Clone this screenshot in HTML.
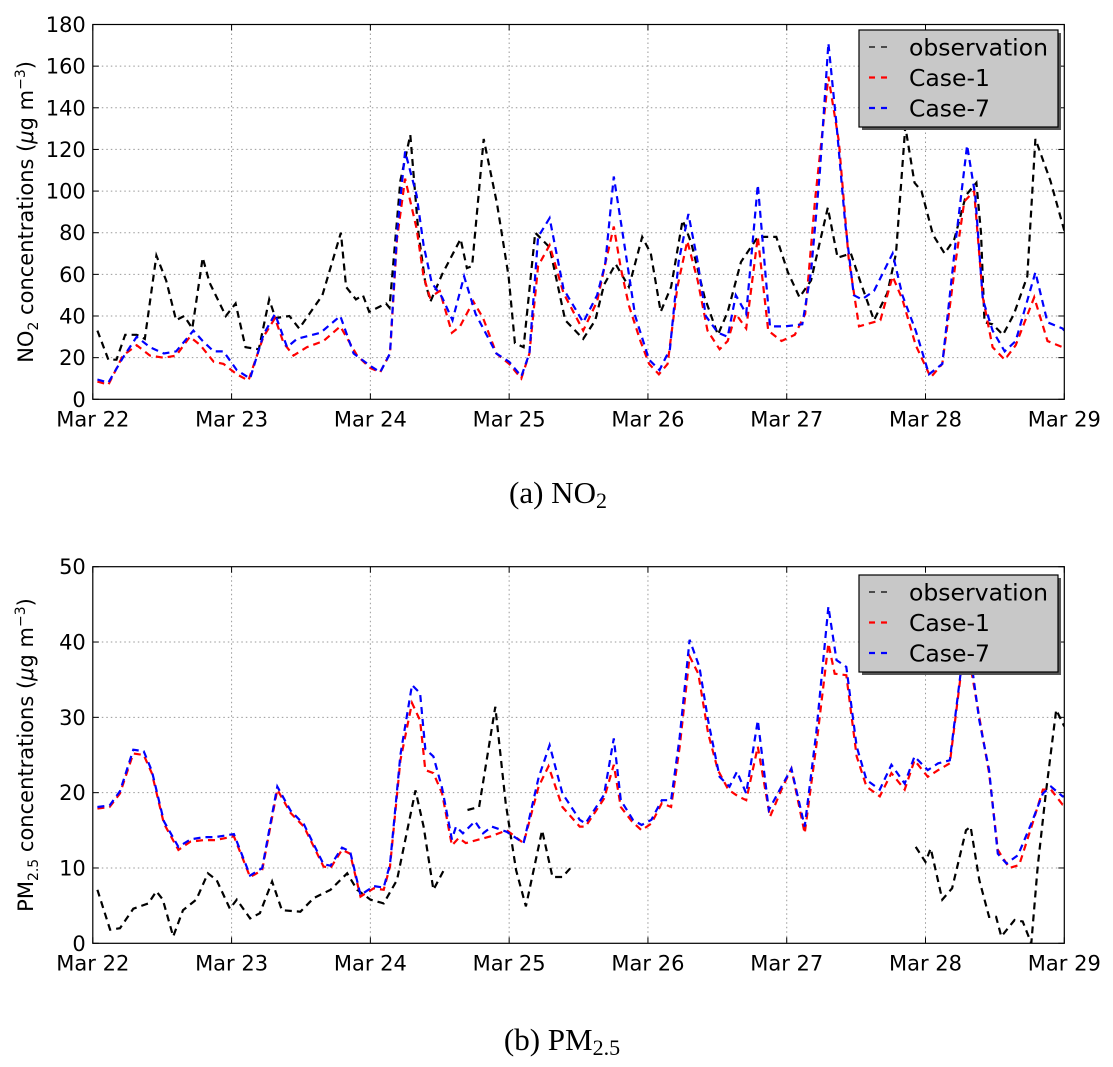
<!DOCTYPE html>
<html><head><meta charset="utf-8">
<style>
html,body{margin:0;padding:0;background:#fff;}
svg{display:block;font-family:"DejaVu Sans","Liberation Sans",sans-serif;}
</style></head>
<body>
<svg id="svg" width="1113" height="1067" viewBox="0 0 1113 1067" xmlns="http://www.w3.org/2000/svg">
<g id="chartA"></g>
<g id="chartB"></g>
<text x="558" y="503" text-anchor="middle" font-family="Liberation Serif, serif" font-size="31">(a) NO<tspan font-size="22" dy="5">2</tspan></text>
<text x="562" y="1050" text-anchor="middle" font-family="Liberation Serif, serif" font-size="31">(b) PM<tspan font-size="22" dy="5">2.5</tspan></text>
</svg>
<script>
const xTickLabels=["Mar 22","Mar 23","Mar 24","Mar 25","Mar 26","Mar 27","Mar 28","Mar 29"];
const legendLabels=["observation","Case-1","Case-7"];
// NO2 data (hours since Mar 22 00:00, values)
const no2ObsH=[0.8,2.7,4.1,5.6,7.6,9,11,12.7,14.4,15.8,17.2,19,20.2,23,24.7,26.4,28.7,30.5,31.6,34,35.7,39.7,42.9,43.8,45.5,46.7,47.8,50.7,51.3,53.2,54.9,56.3,57.5,58.4,60.4,63.6,64.7,65.6,67.6,69.9,71.9,73,74.5,76.5,79,81.7,84.8,86.9,88.4,90.4,92.7,95,96.5,98.2,100,102,103.5,105.8,108.1,109.8,112.1,115,118.2,120.2,122.2,124.2,127.1,128.8,131.1,132.8,135.1,137.4,138.9,140.5,142.1,143.3,145.3,147.3,149,151,152.8,153.6,154.2,155.6,157.4,159.3,161.6,163,165.6,168];
const no2ObsV=[33,19,19,31,31,29,69,57,38,40,34,68,56,40,46,25,24,48,39,40,34,50,80,54,48,50,42,46,44,105,127,80,56,47,60,77,63,64,125,94,59,27,25,80,73,38,29,38,55,65,54,78,70,42,54,86,75,49,31,42,66,78,78,61,49,57,92,68,70,56,38,51,70,131,104,100,79,70,77,98,104,80,37,36,31,41,59,125,105,81];
const no2C1H=[0.8,2.7,5.2,7.6,9.9,12.3,14.4,16.8,18.6,20.9,22.6,24.9,26.9,29.5,31.5,33,34.7,37,39.9,42.8,45.7,48,49.7,51.4,52.6,54,56,57.2,58.3,60,62.1,63.5,65.8,67.5,69.8,72,74.1,75.5,77,79,81.4,84.8,87.2,88.6,90.1,91.3,92.7,94.7,96.2,97.9,99.4,101.1,102.8,104.6,106.3,108.4,109.8,111.2,113,115,116.8,119.1,121.4,123.2,124.9,127.2,129,130.7,132.5,136.2,138.3,140,142.3,144.9,146.9,149.3,150.7,152.4,153.9,155.6,157.7,159.6,162.8,165.1,167.7,168];
const no2C1V=[8.5,7,21,26,21,20,21,30,26,18,17,12,9,30,39,27,21,25,28,35,21,15,13,22,77,106,82,59,49,52,32,35,47,39,22,17,10,22,64,74,51,33,47,65,83,63,45,28,17,12,17,54,76,57,33,24,28,41,34,78,33,28,31,41,96,155,124,68,35,38,59,48,26,10.5,17,68,95,100,49,25,19,26,49,28,25,25];
const no2C7H=[0.8,2.7,5.2,7.6,9.9,12.3,14.4,17.4,19,20.9,22.6,24.9,27.2,29.5,31.5,33.6,35.3,39.4,42.8,45.1,48,49.7,51.4,52.6,54,56,57.2,58.6,60.4,62.2,64.2,66.2,69.8,72,74.1,75.5,77,79,81.4,84.8,87.2,88.6,90.1,92,93.8,96.2,98,99.8,101.3,103,104.6,106,108.1,109.8,111.2,113,115,117.1,119.7,122.7,124.2,125.7,127.2,128.6,130.1,131.6,133,135.1,138.3,140,142.3,144.6,146.9,149.3,151.2,152.6,153.9,155.6,157.7,159.6,163,165.1,167.7,168];
const no2C7V=[9.5,8,20,30,25,22,23,33,28,23,23,14,10,31,41,25,29,32,40,22,16,13,22,80,119,98,74,56,49,38,59,41,22,18,11,22,78,87,53,37,50,65,107,73,40,19,14,24,66,89,66,40,32,30,50,41,103,35,35,36,61,108,171,132,85,50,48,52,70,50,33,12,17,78,122,98,48,33,23,28,61,37,34,33];
// PM2.5 data (null = missing observations)
const pmObsH=[0.8,3,4.7,7,9.6,11,12.1,13.9,15.6,17.9,19.9,21.4,23.7,24.9,27.2,28.9,31,32.7,35.9,38.2,41.1,44,45.7,48,50.3,52.6,55.8,57.2,58.9,60.7,62,64.8,66.8,69.6,71.4,73.2,74.9,77.7,79.5,81.2,82.6,100,142.3,144,144.9,146.9,148.6,151,151.8,153.3,155,156.2,157.1,159.4,160.8,162.3,163.4,164.8,166.6,168];
const pmObsV=[7.1,1.8,2,4.6,5.3,6.9,5.8,0.9,4.4,5.8,9.3,8.4,4.6,5.8,3.3,4,8.2,4.4,4.2,6,7.1,9.3,7.1,5.8,5.3,8.4,20.3,15.5,7.1,9.7,null,17.7,18.1,31.4,18.6,9.7,4.9,15,8.8,8.8,10,null,12.8,10.8,12.6,5.8,7.3,15,15.5,8.4,3.5,3.5,0.9,3.1,2.9,0,10.2,19.9,31,28.8];
const pmC1H=[0.8,2.9,4.7,7,8.8,10.2,12.3,14.8,16.9,19.2,21.2,24.4,27.2,29.3,31.9,34.2,36.5,39.9,41.1,43.1,44.5,46.3,48.6,50.3,51.4,53.2,55.2,56.6,57.5,58.9,60.4,62.1,63.3,64.5,68.8,71.6,74.5,77.1,78.8,81.2,84.2,85.2,88.4,90.1,91.3,93.2,94.9,96.6,98.4,100,101.5,103.2,104.7,106.4,108.1,109.9,111.6,113,115,117.1,119.1,120.8,123.1,125.1,127.2,128.3,130.3,132.1,133.8,136.1,138.1,140.4,142.1,144.4,146.2,148.2,150.2,151.2,152.1,153.3,155,156.5,158.5,160.2,162.5,164.3,165.7,167.7,168];
const pmC1V=[17.9,18.1,19.9,25.2,25,22.6,15.9,12.4,13.5,13.7,13.7,14.2,8.8,9.7,20.4,17.3,15.5,10.2,10,12.4,11.9,6.2,7.3,7.1,10.2,24.3,31.9,29.6,23,22.6,19.9,13,14,13.3,14.2,15,13.3,20.8,23.5,18.1,15.5,15.5,19.2,23.7,18.1,16.2,15,15.9,18.6,18.1,26.1,38.1,35.8,27.9,23,20.4,19.5,19,26.1,16.8,20.4,23.2,14.6,26.1,39.8,35.8,35.6,24.8,20.8,19.5,22.6,20.4,24.3,22.1,23,23.9,36.3,39,35.4,30,22.6,12.4,10,10.4,15.9,20.4,20.4,18.4,18.4];
const pmC7H=[0.8,2.9,4.7,7,8.8,10.2,12.3,14.8,16.9,19.2,21.2,24.4,27.2,29.3,31.9,34.2,36.5,39.9,41.1,43.1,44.5,46.3,48.6,50.3,51.4,53.2,55.2,56.6,57.5,58.9,60.4,62.1,62.8,64,66.1,67.5,69,71.6,74.5,77.1,79,81.2,84.2,85.2,88.4,90.1,91.3,93.4,94.9,96.6,98.4,100,101.5,103.2,104.9,106.4,108.4,110.1,111.4,113,115,116.9,119.1,120.8,123.1,125.1,127.2,128.6,130.3,132.1,133.8,136.1,138.1,140.4,142.1,144.4,146.2,148.2,150.2,151.2,152.1,153.3,155,156.5,158,160,162.3,164.3,165.7,167.7,168];
const pmC7V=[18.1,18.3,20.2,25.7,25.5,22.9,16.2,12.8,13.8,14.1,14.1,14.5,9,10,20.8,17.6,15.8,10.5,10.3,12.7,12.2,6.4,7.6,7.4,10.5,25,34.3,33.2,25.8,24.8,20.6,13.8,15.5,14.6,16.2,14.6,15.5,14.8,13.3,22,26.3,19.9,16.4,15.9,19.7,27.2,19,16.4,15.7,16.4,19,19,27.4,40.3,36.7,29.6,22.1,20.8,22.8,19.9,29.6,17.7,20.8,23.2,15.5,27.9,44.7,37.6,36.7,26.1,21.7,20.4,23.7,21.2,24.8,23,23.9,24.3,36.7,41,36.3,29.6,23,11.9,10.6,11.7,15.9,19.9,20.8,19.5,19.5];
const no2YTicks=[0,20,40,60,80,100,120,140,160,180];
const pmYTicks=[0,10,20,30,40,50];

const NS="http://www.w3.org/2000/svg";
function mk(parent,tag,attrs){const e=document.createElementNS(NS,tag);for(const k in attrs)e.setAttribute(k,attrs[k]);parent.appendChild(e);return e;}

function drawChart(g,cfg){
  const L=92.8,R=1064.3,T=cfg.top,B=cfg.bottom;
  const xs=h=>L+(h/168)*(R-L);
  const ys=v=>B-(v/cfg.ymax)*(B-T);
  const grid=mk(g,'g',{});
  
  
  xTickLabels.forEach((lab,i)=>{
    const x=xs(i*24);
    if(i>0&&i<7){mk(grid,'line',{x1:x,x2:x,y1:T,y2:B,stroke:'#999','stroke-width':1,'stroke-dasharray':'1.5,3'});}
    mk(g,'line',{x1:x,x2:x,y1:B,y2:B-6,stroke:'#000','stroke-width':1});
    mk(g,'line',{x1:x,x2:x,y1:T,y2:T+6,stroke:'#000','stroke-width':1});
    const t=mk(g,'text',{x:x,y:B+27,'text-anchor':'middle','font-size':21});
    
    
    t.textContent=lab;
  });
  cfg.yticks.forEach(v=>{
    const y=ys(v);
    if(v>0&&v<cfg.ymax)mk(grid,'line',{x1:L,x2:R,y1:y,y2:y,stroke:'#999','stroke-width':1,'stroke-dasharray':'1.5,3'});
    mk(g,'line',{x1:L,x2:L+6,y1:y,y2:y,stroke:'#000','stroke-width':1});
    mk(g,'line',{x1:R,x2:R-6,y1:y,y2:y,stroke:'#000','stroke-width':1});
    const t=mk(g,'text',{x:L-7,y:y+7.5,'text-anchor':'end','font-size':21});
    
    
    t.textContent=v;
  });
  const cp=mk(g,'clipPath',{id:cfg.id+'clip'});mk(cp,'rect',{x:L,y:T,width:R-L,height:B-T});
  const colors=['#000','#f00','#00f'];
  const names=['observation-line','case-1-line','case-7-line'];
  cfg.series.forEach((s,si)=>{
    let d='',pen=false;
    s[0].forEach((h,i)=>{const v=s[1][i];if(v===null){pen=false;return;}d+=(pen?'L':'M')+xs(h).toFixed(1)+','+ys(v).toFixed(1);pen=true;});
    const p=mk(g,'path',{d:d,fill:'none',stroke:colors[si],'stroke-width':2.2,'stroke-dasharray':'7,5','clip-path':'url(#'+cfg.id+'clip)'});
    
    
  });
  const fr=mk(g,'rect',{x:L,y:T,width:R-L,height:B-T,fill:'none',stroke:'#000','stroke-width':1.2});
  
  
  const yl=mk(g,'text',{transform:'translate(33,'+((T+B)/2)+') rotate(-90)','text-anchor':'middle','font-size':21});
  
  
  yl.innerHTML=cfg.ylabel;
  const lg=mk(g,'g',{});
  
  
  const ly=cfg.legTop;
  mk(lg,'rect',{x:862,y:ly+3,width:199,height:97,fill:'#555'});
  mk(lg,'rect',{x:859,y:ly,width:199,height:97,fill:'#c8c8c8',stroke:'#000','stroke-width':1.2});
  legendLabels.forEach((lab,i)=>{
    const cy=ly+17+i*30.5;
    const ln=mk(lg,'line',{x1:869,x2:891,y1:cy,y2:cy,stroke:colors[i],'stroke-width':i?2.2:1.3,'stroke-dasharray':'6,6'});
    
    
    const t=mk(lg,'text',{x:909,y:cy+8.5,'font-size':23.5});
    
    
    t.textContent=lab;
  });
}
drawChart(document.getElementById('chartA'),{id:'a',top:24.5,bottom:399.3,ymax:180,yticks:no2YTicks,legTop:30,
  ylabel:'NO<tspan font-size="14" dy="5">2</tspan><tspan dy="-5"> concentrations (</tspan><tspan font-style="italic">μ</tspan>g m<tspan font-size="14" dy="-8">−3</tspan><tspan dy="8">)</tspan>',
  series:[[no2ObsH,no2ObsV],[no2C1H,no2C1V],[no2C7H,no2C7V]]});
drawChart(document.getElementById('chartB'),{id:'b',top:566.7,bottom:943.3,ymax:50,yticks:pmYTicks,legTop:575,
  ylabel:'PM<tspan font-size="14" dy="5">2.5</tspan><tspan dy="-5"> concentrations (</tspan><tspan font-style="italic">μ</tspan>g m<tspan font-size="14" dy="-8">−3</tspan><tspan dy="8">)</tspan>',
  series:[[pmObsH,pmObsV],[pmC1H,pmC1V],[pmC7H,pmC7V]]});
</script>
</body></html>
